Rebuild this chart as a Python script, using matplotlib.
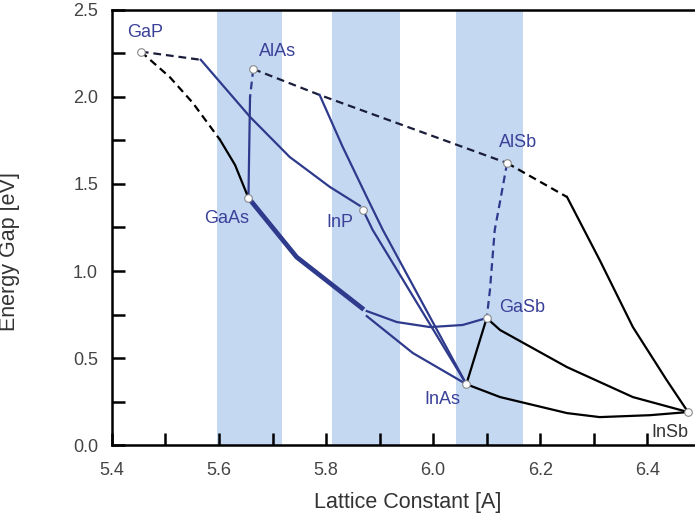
import numpy as np
from matplotlib import pyplot as plt

plt.rcParams['font.family'] = ['Liberation Sans', 'DejaVu Sans']

# binary compounds: lattice constant [A], energy gap [eV]
compounds = ['GaP', 'AlAs', 'GaAs', 'InP', 'AlSb', 'GaSb', 'InAs', 'InSb']
lattice = [5.454, 5.664, 5.655, 5.869, 6.138, 6.100, 6.062, 6.476]
gap = [2.26, 2.16, 1.42, 1.35, 1.62, 0.73, 0.35, 0.19]
label_x = [5.462, 5.71, 5.615, 5.826, 6.158, 6.166, 6.018, 6.442]
label_y = [2.37, 2.26, 1.30, 1.28, 1.74, 0.79, 0.26, 0.07]

# shaded lattice constant windows
bands = [(5.596, 5.718), (5.811, 5.938), (6.043, 6.168)]

# ternary curves
gap_kink_x = [5.454, 5.566]
gap_kink_y = [2.26, 2.213]
gainp_x = [5.566, 5.658, 5.732, 5.807, 5.863]
gainp_y = [2.213, 1.885, 1.655, 1.483, 1.375]

alas_alsb_x = [5.664, 5.788, 6.138]
alas_alsb_y = [2.16, 2.011, 1.62]
alinas_x = [5.788, 5.831, 5.876, 5.906, 6.062]
alinas_y = [2.011, 1.713, 1.425, 1.236, 0.35]
inasp_x = [5.869, 5.887, 6.062]
inasp_y = [1.35, 1.236, 0.35]

alas_dash_x = [5.664, 5.658]
alas_dash_y = [2.16, 2.0]
algaas_x = [5.658, 5.655]
algaas_y = [2.0, 1.42]

gap_gaas_dash_x = [5.454, 5.508, 5.551, 5.602]
gap_gaas_dash_y = [2.26, 2.114, 1.966, 1.753]
gap_gaas_x = [5.602, 5.630, 5.655]
gap_gaas_y = [1.753, 1.609, 1.42]

gaas_common_x = [5.655, 5.745, 5.807, 5.867]
gaas_common_y = [1.42, 1.08, 0.931, 0.787]
gainas_x = [5.876, 5.962, 6.062]
gainas_y = [0.741, 0.529, 0.35]
gaassb_x = [5.876, 5.932, 5.994, 6.055, 6.100]
gaassb_y = [0.770, 0.707, 0.678, 0.690, 0.73]

alsb_gasb_x = [6.138, 6.125, 6.115, 6.106, 6.100]
alsb_gasb_y = [1.62, 1.40, 1.236, 0.89, 0.73]

alsb_kink_x = [6.138, 6.25]
alsb_kink_y = [1.62, 1.425]
alinsb_x = [6.25, 6.311, 6.373, 6.436, 6.476]
alinsb_y = [1.425, 1.063, 0.678, 0.374, 0.19]

gainsb_x = [6.100, 6.125, 6.25, 6.373, 6.476]
gainsb_y = [0.73, 0.661, 0.448, 0.276, 0.19]
inassb_x = [6.062, 6.125, 6.25, 6.311, 6.405, 6.476]
inassb_y = [0.35, 0.276, 0.184, 0.161, 0.172, 0.19]
gasb_inas_x = [6.100, 6.082, 6.062]
gasb_inas_y = [0.73, 0.55, 0.35]

navy = '#2e3a8c'
dark = '#1a1d3a'
dash = (0, (3.5, 2.2))

fig = plt.figure(figsize=(6.95, 5.17), dpi=100)
ax = fig.add_axes([0.161, 0.139, 0.839, 0.842])

for lo, hi in bands:
    ax.axvspan(lo, hi, color='#c4d8f2', lw=0, zorder=0)

lw = 1.6
ax.plot(gap_kink_x, gap_kink_y, color=dark, lw=lw, ls=dash)
ax.plot(gainp_x, gainp_y, color=navy, lw=lw)
ax.plot(alas_alsb_x, alas_alsb_y, color=dark, lw=lw, ls=dash)
ax.plot(alinas_x, alinas_y, color=navy, lw=lw)
ax.plot(inasp_x, inasp_y, color=navy, lw=lw)
ax.plot(alas_dash_x, alas_dash_y, color=navy, lw=lw, ls=dash)
ax.plot(algaas_x, algaas_y, color=navy, lw=lw)
ax.plot(gap_gaas_dash_x, gap_gaas_dash_y, color='black', lw=lw, ls=dash)
ax.plot(gap_gaas_x, gap_gaas_y, color='black', lw=lw)
ax.plot(gaas_common_x, gaas_common_y, color=navy, lw=3.4)
ax.plot(gainas_x, gainas_y, color=navy, lw=lw)
ax.plot(gaassb_x, gaassb_y, color=navy, lw=lw)
ax.plot(alsb_gasb_x, alsb_gasb_y, color=navy, lw=lw, ls=dash)
ax.plot(alsb_kink_x, alsb_kink_y, color='black', lw=lw, ls=dash)
ax.plot(alinsb_x, alinsb_y, color='black', lw=lw)
ax.plot(gainsb_x, gainsb_y, color='black', lw=lw)
ax.plot(inassb_x, inassb_y, color='black', lw=lw)
ax.plot(gasb_inas_x, gasb_inas_y, color='black', lw=lw)

ax.scatter(lattice, gap, s=30, facecolor='white', edgecolor='#888888',
           linewidth=0.8, zorder=5, clip_on=False)

for name, tx, ty in zip(compounds, label_x, label_y):
    c = '#333333' if name == 'InSb' else '#3a4199'
    ax.text(tx, ty, name, color=c, fontsize=13, ha='center', va='center')

ax.set_xlim(5.4, 6.489)
ax.set_ylim(0, 2.5)
ax.set_xticks([5.4, 5.6, 5.8, 6.0, 6.2, 6.4])
ax.set_xticks(np.arange(5.5, 6.5, 0.2), minor=True)
ax.set_yticks([0.0, 0.5, 1.0, 1.5, 2.0, 2.5])
ax.set_yticks([0.25, 0.75, 1.25, 1.75, 2.25], minor=True)
ax.set_xticklabels(['5.4', '5.6', '5.8', '6.0', '6.2', '6.4'])
ax.set_yticklabels(['0.0', '0.5', '1.0', '1.5', '2.0', '2.5'])
ax.tick_params(which='both', direction='in', length=9, width=1.8,
               labelsize=13, labelcolor='#444444')
ax.tick_params(axis='y', pad=10)
ax.tick_params(axis='x', pad=12)
ax.spines['right'].set_visible(False)
for s in ['left', 'bottom', 'top']:
    ax.spines[s].set_linewidth(1.8)

ax.set_xlabel('Lattice Constant [A]', fontsize=15.5, color='#333333')
ax.set_ylabel('Energy Gap [eV]', fontsize=15.5, color='#333333')
ax.xaxis.set_label_coords(0.508, -0.108)
ax.yaxis.set_label_coords(-0.158, 0.444)

fig.savefig('out.png', dpi=100)
